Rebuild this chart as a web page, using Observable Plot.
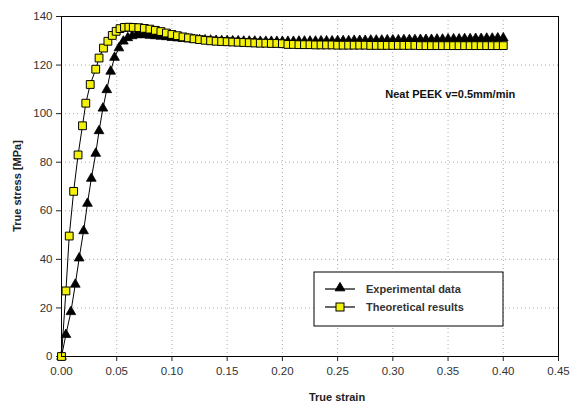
<!DOCTYPE html>
<html>
<head>
<meta charset="utf-8">
<script src="https://cdn.jsdelivr.net/npm/d3@7"></script>
<script src="https://cdn.jsdelivr.net/npm/@observablehq/plot@0.6"></script>
<style>
  html, body { margin: 0; padding: 0; background: #fff; }
  #chart { width: 573px; height: 405px; }
  svg { font-family: "Liberation Sans", Arial, sans-serif; }
</style>
</head>
<body>
<div id="chart"></div>
<script>
// ---- data ----
const expStrain = [0, 0.004, 0.0085, 0.0125, 0.016, 0.02, 0.0235, 0.027, 0.031, 0.034, 0.0375, 0.041, 0.0445, 0.048, 0.052, 0.056, 0.06, 0.064, 0.068, 0.072, 0.076, 0.08,
  0.085, 0.09, 0.095, 0.1, 0.105, 0.11, 0.115, 0.12, 0.125, 0.13, 0.135, 0.14, 0.145, 0.15, 0.155, 0.16, 0.165, 0.17, 0.175, 0.18, 0.185, 0.19, 0.195, 0.2,
  0.205, 0.21, 0.215, 0.22, 0.225, 0.23, 0.235, 0.24, 0.245, 0.25, 0.255, 0.26, 0.265, 0.27, 0.275, 0.28, 0.285, 0.29, 0.295, 0.3,
  0.305, 0.31, 0.315, 0.32, 0.325, 0.33, 0.335, 0.34, 0.345, 0.35, 0.355, 0.36, 0.365, 0.37, 0.375, 0.38, 0.385, 0.39, 0.395, 0.4];
const expStress = [0, 9, 18.4, 29.7, 40.5, 51.7, 63, 73.3, 83.6, 92.9, 102.2, 109.8, 117.4, 123.1, 127, 129.8, 131.2, 132, 132.4, 132.5, 132.4, 132.2,
  132.0, 131.8, 131.6, 131.3, 131.1, 130.9, 130.7, 130.5, 130.4, 130.3, 130.2, 130.1, 130.0, 130.0, 129.9, 129.9, 129.8, 129.8, 129.8, 129.7, 129.7, 129.7, 129.7, 129.7,
  129.7, 129.7, 129.8, 129.8, 129.8, 129.8, 129.9, 129.9, 129.9, 130.0, 130.0, 130.0, 130.1, 130.1, 130.1, 130.2, 130.2, 130.2, 130.3, 130.3,
  130.3, 130.4, 130.4, 130.4, 130.5, 130.5, 130.5, 130.6, 130.6, 130.7, 130.7, 130.7, 130.8, 130.8, 130.9, 130.9, 131.0, 131.0, 131.1, 131.1];

const thStrain = [0, 0.004, 0.007, 0.011, 0.015, 0.019, 0.022, 0.026, 0.031, 0.034, 0.038, 0.042, 0.046, 0.0495, 0.053, 0.057, 0.061,
  0.065, 0.07, 0.075, 0.08, 0.085, 0.09, 0.095, 0.1, 0.105, 0.11, 0.115, 0.12, 0.125, 0.13, 0.135, 0.14, 0.145, 0.15, 0.155, 0.16, 0.165, 0.17, 0.175, 0.18, 0.185, 0.19, 0.195, 0.2,
  0.205, 0.21, 0.215, 0.22, 0.225, 0.23, 0.235, 0.24, 0.245, 0.25, 0.255, 0.26, 0.265, 0.27, 0.275, 0.28, 0.285, 0.29, 0.295, 0.3,
  0.305, 0.31, 0.315, 0.32, 0.325, 0.33, 0.335, 0.34, 0.345, 0.35, 0.355, 0.36, 0.365, 0.37, 0.375, 0.38, 0.385, 0.39, 0.395, 0.4];
const thStress = [0, 27, 49.6, 68, 83, 95, 104.3, 112, 118.3, 122.9, 127, 129.8, 132.2, 133.9, 135, 135.5, 135.6,
  135.5, 135.4, 135.1, 134.8, 134.3, 133.8, 133.2, 132.6, 132.1, 131.6, 131.2, 130.8, 130.5, 130.2, 130.0, 129.8, 129.7, 129.6, 129.5, 129.4, 129.3, 129.2, 129.1, 129.0, 129.0, 128.9, 128.9, 128.8,
  128.5, 128.5, 128.4, 128.4, 128.4, 128.3, 128.3, 128.3, 128.3, 128.2, 128.2, 128.2, 128.2, 128.2, 128.2, 128.1, 128.1, 128.1, 128.1, 128.1,
  128.1, 128.1, 128.1, 128.1, 128.0, 128.0, 128.0, 128.0, 128.0, 128.0, 128.0, 128.0, 128.0, 128.0, 128.0, 128.0, 128.0, 128.0, 128.0, 128.0];

const xTicks = [0, 0.05, 0.1, 0.15, 0.2, 0.25, 0.3, 0.35, 0.4, 0.45];
const yTicks = [0, 20, 40, 60, 80, 100, 120, 140];
const seriesNames = ["Experimental data", "Theoretical results"];
const annotation = "Neat PEEK v=0.5mm/min";
const xLabel = "True strain";
const yLabel = "True stress [MPa]";

const expData = expStrain.map((s, i) => ({strain: s, stress: expStress[i]}));
const thData = thStrain.map((s, i) => ({strain: s, stress: thStress[i]}));

const YELLOW = "#f4f20a";

const plot = Plot.plot({
  width: 573,
  height: 405,
  marginTop: 16,
  marginRight: 15,
  marginBottom: 49,
  marginLeft: 61,
  style: {fontFamily: "Liberation Sans, Arial, sans-serif", fontSize: "11px", color: "#222", background: "#fff"},
  x: {domain: [0, 0.45]},
  y: {domain: [0, 140]},
  marks: [
    Plot.gridX(xTicks, {stroke: "#aaa", strokeOpacity: 1, strokeDasharray: "1,3"}),
    Plot.gridY(yTicks, {stroke: "#aaa", strokeOpacity: 1, strokeDasharray: "1,3"}),
    Plot.axisX(xTicks, {tickSize: 5, tickFormat: d => d.toFixed(2), tickPadding: 5, label: null, fontSize: 11.5, fill: "#333"}),
    Plot.axisY(yTicks, {tickSize: 5, tickPadding: 4, label: null, fontSize: 11.5, fill: "#333"}),
    Plot.line(expData, {x: "strain", y: "stress", stroke: "#000", strokeWidth: 1}),
    Plot.dot(expData, {x: "strain", y: "stress", symbol: "triangle", r: 3.6, fill: "#000", stroke: "#000", strokeWidth: 0.8}),
    Plot.line(thData, {x: "strain", y: "stress", stroke: "#000", strokeWidth: 1}),
    Plot.dot(thData, {x: "strain", y: "stress", symbol: "square", r: 4.4, fill: YELLOW, stroke: "#000", strokeWidth: 1}),
    Plot.text([annotation], {x: 0.352, y: 108, text: d => d, fontWeight: "bold", fontSize: 11, fill: "#111"}),
    Plot.frame({stroke: "#000", strokeWidth: 1})
  ]
});

document.getElementById("chart").appendChild(plot);

// axis titles and legend added into the same SVG
const svg = d3.select(plot);
svg.append("text")
  .attr("x", 337).attr("y", 401)
  .attr("text-anchor", "middle")
  .attr("font-weight", "bold").attr("font-size", 11).attr("fill", "#222")
  .text(xLabel);
svg.append("text")
  .attr("transform", "translate(21,186) rotate(-90)")
  .attr("text-anchor", "middle")
  .attr("font-weight", "bold").attr("font-size", 11).attr("fill", "#222")
  .text(yLabel);

const lg = svg.append("g").attr("transform", "translate(314,272)");
lg.append("rect").attr("x", 0).attr("y", 0).attr("width", 189).attr("height", 54)
  .attr("fill", "#fff").attr("stroke", "#000").attr("stroke-width", 1);
const rows = [{y: 17, sym: "triangle"}, {y: 35, sym: "square"}];
rows.forEach((r, i) => {
  lg.append("path").attr("d", `M11,${r.y}H41`)
    .attr("fill", "none").attr("stroke", "#000").attr("stroke-width", 1.2);
  if (r.sym === "triangle") {
    lg.append("path").attr("d", d3.symbol(d3.symbolTriangle, Math.PI * 3.6 * 3.6)())
      .attr("transform", `translate(26,${r.y - 1})`).attr("fill", "#000").attr("stroke", "#000");
  } else {
    lg.append("rect").attr("x", 22).attr("y", r.y - 4).attr("width", 8).attr("height", 8)
      .attr("fill", YELLOW).attr("stroke", "#000");
  }
  lg.append("text").attr("x", 52).attr("y", r.y + 4)
    .attr("text-anchor", "start")
    .attr("font-weight", "bold").attr("font-size", 11).attr("fill", "#333")
    .text(seriesNames[i]);
});
</script>
</body>
</html>
